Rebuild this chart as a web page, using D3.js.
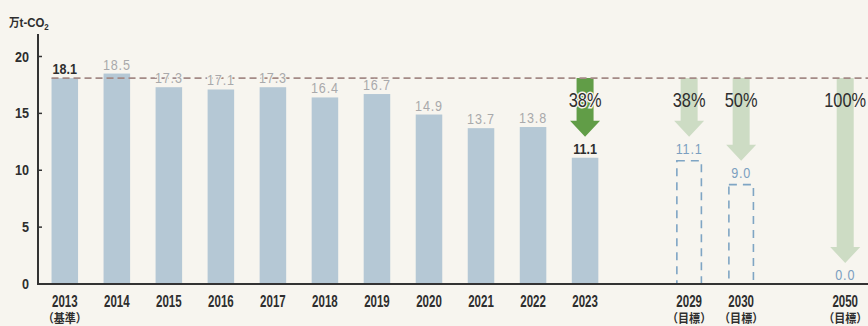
<!DOCTYPE html>
<html>
<head>
<meta charset="utf-8">
<script src="https://cdn.jsdelivr.net/npm/d3@7"></script>
<style>
  html, body { margin: 0; padding: 0; background: #f7f5ef; }
  svg { display: block; }
</style>
</head>
<body>
<svg id="chart" width="868" height="326"></svg>
<script>
// Emissions, 10k t-CO2: actual results and reduction targets
const actualYears = ["2013","2014","2015","2016","2017","2018","2019","2020","2021","2022","2023"];
const actualValues = [18.1, 18.5, 17.3, 17.1, 17.3, 16.4, 16.7, 14.9, 13.7, 13.8, 11.1];
const targetYears = ["2029","2030","2050"];
const targetValues = [11.1, 9.0, 0.0];
const baseYear = "2013";
const baseValue = 18.1;
const reductionYears = ["2023","2029","2030","2050"];
const reductionLabels = ["38%","38%","50%","100%"];
const yTicks = [0, 5, 10, 15, 20];
const unitLabel = "万t-CO";
const baseNote = "（基準）";
const targetNote = "（目標）";

const W = 868, H = 326;
const svg = d3.select("#chart");
const SANS = "'Liberation Sans','Arial',sans-serif";
const CJK = "'Noto Sans CJK JP','Noto Sans CJK SC',sans-serif";
const BG = "#f7f5ef";

// horizontally condensed text placed at (px, py)
const squeeze = (sx, px, py) => d => `translate(${px(d)},${py(d)}) scale(${sx},1)`;

svg.append("rect").attr("width", W).attr("height", H).attr("fill", BG);

// category slots, with an empty slot before 2029 and before 2050 to mark the time breaks
const slots = [...actualYears, "_gap1", targetYears[0], targetYears[1], "_gap2", targetYears[2]];
const x = d3.scaleBand().domain(slots).range([38, 872]).paddingInner(0.49).paddingOuter(0.26);
const y = d3.scaleLinear().domain([0, 20]).range([284, 56.5]);
const cx = d => x(d) + x.bandwidth() / 2;

const actual = actualYears.map((yr, i) => ({ year: yr, value: actualValues[i] }));
const targets = targetYears.map((yr, i) => ({ year: yr, value: targetValues[i] }));
const reductions = reductionYears.map((yr, i) => {
  const v = actualYears.includes(yr) ? actualValues[actualYears.indexOf(yr)]
          : targetValues[targetYears.indexOf(yr)];
  return { year: yr, label: reductionLabels[i], value: v, solid: actualYears.includes(yr) };
});

// reduction arrows from the base-year level down to each value
const shaftHalf = 8.5, headHalf = 15, headLen = 16;
const arrowPath = d => {
  const c = cx(d.year), top = y(baseValue), tip = y(d.value) - 21, neck = tip - headLen;
  return `M${c - shaftHalf},${top} L${c + shaftHalf},${top} L${c + shaftHalf},${neck} L${c + headHalf},${neck}
          L${c},${tip} L${c - headHalf},${neck} L${c - shaftHalf},${neck} Z`;
};
svg.append("g").selectAll("path").data(reductions).join("path")
  .attr("d", arrowPath)
  .attr("fill", d => d.solid ? "#619d47" : "#cddcc4");

// actual bars
svg.append("g").selectAll("rect").data(actual).join("rect")
  .attr("x", d => x(d.year))
  .attr("width", x.bandwidth())
  .attr("y", d => y(d.value))
  .attr("height", d => y(0) - y(d.value))
  .attr("fill", "#b5c8d5");

// target bars (dashed outlines)
svg.append("g").selectAll("rect").data(targets.filter(d => d.value > 0)).join("rect")
  .attr("x", d => x(d.year) + 1)
  .attr("width", x.bandwidth() - 2)
  .attr("y", d => y(d.value) + 3)
  .attr("height", d => y(0) - y(d.value) - 3)
  .attr("fill", "none")
  .attr("stroke", "#7fa5c4")
  .attr("stroke-width", 1.6)
  .attr("stroke-dasharray", "8,6");

// base-year reference line
svg.append("line")
  .attr("x1", x(baseYear)).attr("x2", W)
  .attr("y1", y(baseValue)).attr("y2", y(baseValue))
  .attr("stroke", "#a48a86")
  .attr("stroke-width", 1.6)
  .attr("stroke-dasharray", "7,4");

// value labels
const highlight = new Set([baseYear, actualYears[actualYears.length - 1]]);
svg.append("g").selectAll("text").data(actual).join("text")
  .attr("transform", squeeze(0.84, d => cx(d.year), d => y(d.value) - 4))
  .attr("text-anchor", "middle")
  .attr("font-family", SANS)
  .attr("font-size", 15)
  .attr("font-weight", d => highlight.has(d.year) ? "bold" : "normal")
  .attr("letter-spacing", d => highlight.has(d.year) ? 0 : 1)
  .attr("fill", d => highlight.has(d.year) ? "#2e2e2e" : "#a9a9ab")
  .attr("stroke", BG).attr("stroke-width", 2.5).attr("paint-order", "stroke")
  .text(d => d.value.toFixed(1));

svg.append("g").selectAll("text").data(targets).join("text")
  .attr("transform", squeeze(0.84, d => cx(d.year), d => y(d.value) - 4))
  .attr("text-anchor", "middle")
  .attr("font-family", SANS)
  .attr("font-size", 15)
  .attr("letter-spacing", 1)
  .attr("fill", "#7c9fc0")
  .text(d => d.value.toFixed(1));

// reduction percentages
svg.append("g").selectAll("text").data(reductions).join("text")
  .attr("transform", squeeze(0.82, d => cx(d.year), () => 107))
  .attr("text-anchor", "middle")
  .attr("font-family", SANS)
  .attr("font-size", 20)
  .attr("fill", "#2e2e2e")
  .attr("stroke", d => d.solid ? BG : "none").attr("stroke-width", 3).attr("paint-order", "stroke")
  .text(d => d.label);

// axes
const yAxis = svg.append("g").attr("transform", "translate(38,0)");
yAxis.append("line").attr("x1", 0).attr("x2", 0).attr("y1", 34).attr("y2", y(0))
  .attr("stroke", "#333").attr("stroke-width", 2);
yAxis.selectAll("line.tick").data(yTicks).join("line").attr("class", "tick")
  .attr("x1", 0).attr("x2", 4).attr("y1", d => y(d)).attr("y2", d => y(d))
  .attr("stroke", "#333").attr("stroke-width", 1.5);
yAxis.selectAll("text").data(yTicks).join("text")
  .attr("transform", squeeze(0.9, () => -9, d => y(d) + 5))
  .attr("text-anchor", "end")
  .attr("font-family", SANS).attr("font-size", 14).attr("font-weight", "bold")
  .attr("fill", "#2e2e2e")
  .text(d => d);

svg.append("line").attr("x1", 37).attr("x2", W).attr("y1", y(0)).attr("y2", y(0))
  .attr("stroke", "#333").attr("stroke-width", 2);

// unit label
const unit = svg.append("text").attr("transform", "translate(9,27) scale(0.88,1)")
  .attr("font-family", SANS).attr("font-size", 13).attr("font-weight", "bold").attr("fill", "#2e2e2e");
unit.append("tspan").attr("font-family", CJK).attr("font-size", 12).text(unitLabel[0]);
unit.append("tspan").text(unitLabel.slice(1));
unit.append("tspan").attr("font-size", 9).attr("dy", 3).text("2");

// category labels
const allYears = [...actualYears, ...targetYears];
svg.append("g").selectAll("text").data(allYears).join("text")
  .attr("transform", squeeze(0.72, d => cx(d), () => 307))
  .attr("text-anchor", "middle")
  .attr("font-family", SANS).attr("font-size", 16).attr("font-weight", "bold")
  .attr("fill", "#2e2e2e")
  .text(d => d);
svg.append("g").selectAll("text").data(allYears.filter(d => d === baseYear || targetYears.includes(d))).join("text")
  .attr("transform", squeeze(0.92, d => cx(d), () => 323))
  .attr("text-anchor", "middle")
  .attr("font-family", CJK).attr("font-size", 12).attr("font-weight", "bold")
  .attr("fill", "#2e2e2e")
  .text(d => d === baseYear ? baseNote : targetNote);
</script>
</body>
</html>
